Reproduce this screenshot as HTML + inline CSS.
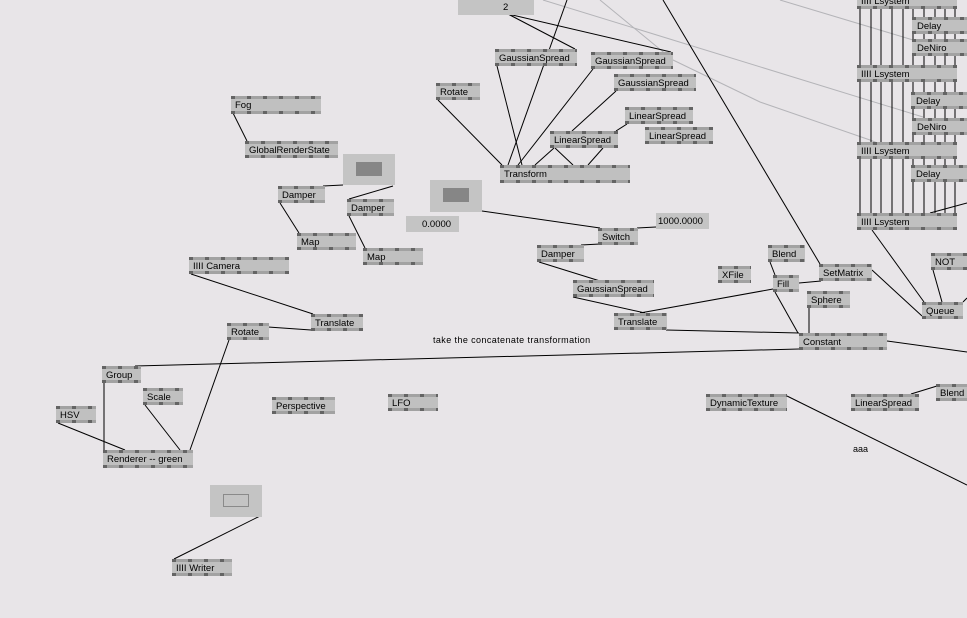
<!DOCTYPE html>
<html><head><meta charset="utf-8">
<style>
html,body{margin:0;padding:0;background:#e8e5e8;}
svg{display:block;}
text{font-family:"Liberation Sans",sans-serif;font-size:9.5px;fill:#000;}
</style></head><body>
<svg width="967" height="618" viewBox="0 0 967 618" xmlns="http://www.w3.org/2000/svg">
<defs>
<pattern id="pins" x="0" y="0" width="16" height="3" patternUnits="userSpaceOnUse">
<rect width="16" height="3" fill="#a2a2a2"/><rect width="4" height="3" fill="#646464"/>
</pattern>
</defs>
<rect width="967" height="618" fill="#e8e5e8"/>

<g stroke="#b4b4b8" stroke-width="1" fill="none">
<line x1="543" y1="0" x2="923" y2="117"/>
<line x1="600" y1="0" x2="673" y2="60"/>
<polyline points="673,60 760,102 870,140 915,158"/>
<line x1="780" y1="0" x2="913" y2="40"/>
</g>

<g stroke="#000" stroke-width="1" fill="none">
<line x1="508" y1="14" x2="575" y2="49"/>
<line x1="508" y1="14" x2="671" y2="52"/>
<line x1="567" y1="0" x2="508" y2="165"/>
<line x1="497" y1="66" x2="522" y2="165"/>
<line x1="593" y1="69" x2="518" y2="165"/>
<line x1="616" y1="91" x2="572" y2="131"/>
<line x1="627" y1="124" x2="616" y2="131"/>
<line x1="438" y1="100" x2="502" y2="165"/>
<line x1="554" y1="148" x2="535" y2="165"/>
<line x1="555" y1="148" x2="573" y2="165"/>
<line x1="603" y1="148" x2="588" y2="165"/>
<line x1="663" y1="0" x2="820" y2="264"/>
<line x1="482" y1="211" x2="600" y2="228"/>
<line x1="637" y1="228" x2="656" y2="227"/>
<line x1="581" y1="245" x2="600" y2="244"/>
<line x1="539" y1="262" x2="600" y2="281"/>
<line x1="573" y1="297" x2="645" y2="313"/>
<line x1="773" y1="289" x2="640" y2="313"/>
<line x1="666" y1="330" x2="799" y2="333"/>
<line x1="775" y1="292" x2="798" y2="333"/>
<line x1="770" y1="262" x2="775" y2="275"/>
<line x1="799" y1="283" x2="821" y2="281"/>
<line x1="809" y1="308" x2="809" y2="333"/>
<line x1="872" y1="270" x2="922" y2="316"/>
<line x1="872" y1="230" x2="924" y2="302"/>
<line x1="933" y1="270" x2="942" y2="302"/>
<line x1="963" y1="302" x2="967" y2="298"/>
<line x1="887" y1="341" x2="967" y2="352"/>
<line x1="787" y1="396" x2="967" y2="485"/>
<line x1="937" y1="386" x2="911" y2="394"/>
<line x1="930" y1="213" x2="967" y2="203"/>
<line x1="233" y1="113" x2="247" y2="141"/>
<line x1="323" y1="186" x2="343" y2="185"/>
<line x1="349" y1="199" x2="393" y2="186"/>
<line x1="280" y1="203" x2="299" y2="233"/>
<line x1="349" y1="216" x2="365" y2="248"/>
<line x1="191" y1="274" x2="313" y2="314"/>
<line x1="268" y1="327" x2="311" y2="330"/>
<line x1="229" y1="340" x2="190" y2="450"/>
<line x1="135" y1="366" x2="799" y2="349"/>
<line x1="58" y1="423" x2="125" y2="450"/>
<line x1="104" y1="383" x2="104" y2="450"/>
<line x1="145" y1="405" x2="180" y2="450"/>
<line x1="260" y1="516" x2="174" y2="559"/>
<path d="M860,8V65M871,8V65M881,8V65M892,8V65M903,8V65M913,8V65M924,8V65M935,8V65M945,8V65M955,8V65"/>
<path d="M860,82V142M871,82V142M881,82V142M892,82V142M903,82V142M913,82V142M924,82V142M935,82V142M945,82V142M955,82V142"/>
<path d="M860,159V213M871,159V213M881,159V213M892,159V213M903,159V213M913,159V213M924,159V213M935,159V213M945,159V213M955,159V213"/>
</g>

<rect x="458" y="0" width="76" height="15" fill="#c4c4c4"/><text x="503" y="10">2</text>
<rect x="343" y="154" width="52" height="31" fill="#c4c4c4"/><rect x="356" y="162" width="26" height="14" fill="#868686"/>
<rect x="430" y="180" width="52" height="32" fill="#c4c4c4"/><rect x="443" y="188" width="26" height="14" fill="#868686"/>
<rect x="406" y="216" width="53" height="16" fill="#c4c4c4"/><text x="422" y="227">0.0000</text>
<rect x="656" y="213" width="53" height="16" fill="#c4c4c4"/><text x="658" y="224">1000.0000</text>
<rect x="210" y="485" width="52" height="32" fill="#c4c4c4"/><rect x="223.5" y="494.5" width="25" height="12" fill="none" stroke="#8a8a8a"/>

<g>
<g transform="translate(857,-8)"><rect width="100" height="17" fill="#c0c0c0"/><rect width="100" height="3" fill="url(#pins)"/><rect y="14" width="100" height="3" fill="url(#pins)"/><text x="4" y="12">IIII  Lsystem</text></g>
<g transform="translate(912,17)"><rect width="55" height="17" fill="#c0c0c0"/><rect width="55" height="3" fill="url(#pins)"/><rect y="14" width="55" height="3" fill="url(#pins)"/><text x="5" y="12">Delay</text></g>
<g transform="translate(912,39)"><rect width="55" height="17" fill="#c0c0c0"/><rect width="55" height="3" fill="url(#pins)"/><rect y="14" width="55" height="3" fill="url(#pins)"/><text x="5" y="12">DeNiro</text></g>
<g transform="translate(857,65)"><rect width="100" height="17" fill="#c0c0c0"/><rect width="100" height="3" fill="url(#pins)"/><rect y="14" width="100" height="3" fill="url(#pins)"/><text x="4" y="12">IIII  Lsystem</text></g>
<g transform="translate(911,92)"><rect width="56" height="17" fill="#c0c0c0"/><rect width="56" height="3" fill="url(#pins)"/><rect y="14" width="56" height="3" fill="url(#pins)"/><text x="5" y="12">Delay</text></g>
<g transform="translate(912,118)"><rect width="55" height="17" fill="#c0c0c0"/><rect width="55" height="3" fill="url(#pins)"/><rect y="14" width="55" height="3" fill="url(#pins)"/><text x="5" y="12">DeNiro</text></g>
<g transform="translate(857,142)"><rect width="100" height="17" fill="#c0c0c0"/><rect width="100" height="3" fill="url(#pins)"/><rect y="14" width="100" height="3" fill="url(#pins)"/><text x="4" y="12">IIII  Lsystem</text></g>
<g transform="translate(911,165)"><rect width="56" height="17" fill="#c0c0c0"/><rect width="56" height="3" fill="url(#pins)"/><rect y="14" width="56" height="3" fill="url(#pins)"/><text x="5" y="12">Delay</text></g>
<g transform="translate(857,213)"><rect width="100" height="17" fill="#c0c0c0"/><rect width="100" height="3" fill="url(#pins)"/><rect y="14" width="100" height="3" fill="url(#pins)"/><text x="4" y="12">IIII  Lsystem</text></g>

<g transform="translate(495,49)"><rect width="82" height="17" fill="#c0c0c0"/><rect width="82" height="3" fill="url(#pins)"/><rect y="14" width="82" height="3" fill="url(#pins)"/><text x="4" y="12">GaussianSpread</text></g>
<g transform="translate(591,52)"><rect width="82" height="17" fill="#c0c0c0"/><rect width="82" height="3" fill="url(#pins)"/><rect y="14" width="82" height="3" fill="url(#pins)"/><text x="4" y="12">GaussianSpread</text></g>
<g transform="translate(614,74)"><rect width="82" height="17" fill="#c0c0c0"/><rect width="82" height="3" fill="url(#pins)"/><rect y="14" width="82" height="3" fill="url(#pins)"/><text x="4" y="12">GaussianSpread</text></g>
<g transform="translate(436,83)"><rect width="44" height="17" fill="#c0c0c0"/><rect width="44" height="3" fill="url(#pins)"/><rect y="14" width="44" height="3" fill="url(#pins)"/><text x="4" y="12">Rotate</text></g>
<g transform="translate(625,107)"><rect width="68" height="17" fill="#c0c0c0"/><rect width="68" height="3" fill="url(#pins)"/><rect y="14" width="68" height="3" fill="url(#pins)"/><text x="4" y="12">LinearSpread</text></g>
<g transform="translate(645,127)"><rect width="68" height="17" fill="#c0c0c0"/><rect width="68" height="3" fill="url(#pins)"/><rect y="14" width="68" height="3" fill="url(#pins)"/><text x="4" y="12">LinearSpread</text></g>
<g transform="translate(550,131)"><rect width="68" height="17" fill="#c0c0c0"/><rect width="68" height="3" fill="url(#pins)"/><rect y="14" width="68" height="3" fill="url(#pins)"/><text x="4" y="12">LinearSpread</text></g>
<g transform="translate(500,165)"><rect width="130" height="18" fill="#c0c0c0"/><rect width="130" height="3" fill="url(#pins)"/><rect y="15" width="130" height="3" fill="url(#pins)"/><text x="4" y="12">Transform</text></g>

<g transform="translate(231,96)"><rect width="90" height="18" fill="#c0c0c0"/><rect width="90" height="3" fill="url(#pins)"/><rect y="15" width="90" height="3" fill="url(#pins)"/><text x="4" y="12">Fog</text></g>
<g transform="translate(245,141)"><rect width="93" height="17" fill="#c0c0c0"/><rect width="93" height="3" fill="url(#pins)"/><rect y="14" width="93" height="3" fill="url(#pins)"/><text x="4" y="12">GlobalRenderState</text></g>
<g transform="translate(278,186)"><rect width="47" height="17" fill="#c0c0c0"/><rect width="47" height="3" fill="url(#pins)"/><rect y="14" width="47" height="3" fill="url(#pins)"/><text x="4" y="12">Damper</text></g>
<g transform="translate(347,199)"><rect width="47" height="17" fill="#c0c0c0"/><rect width="47" height="3" fill="url(#pins)"/><rect y="14" width="47" height="3" fill="url(#pins)"/><text x="4" y="12">Damper</text></g>
<g transform="translate(297,233)"><rect width="59" height="17" fill="#c0c0c0"/><rect width="59" height="3" fill="url(#pins)"/><rect y="14" width="59" height="3" fill="url(#pins)"/><text x="4" y="12">Map</text></g>
<g transform="translate(363,248)"><rect width="60" height="17" fill="#c0c0c0"/><rect width="60" height="3" fill="url(#pins)"/><rect y="14" width="60" height="3" fill="url(#pins)"/><text x="4" y="12">Map</text></g>
<g transform="translate(189,257)"><rect width="100" height="17" fill="#c0c0c0"/><rect width="100" height="3" fill="url(#pins)"/><rect y="14" width="100" height="3" fill="url(#pins)"/><text x="4" y="12">IIII  Camera</text></g>
<g transform="translate(311,314)"><rect width="52" height="17" fill="#c0c0c0"/><rect width="52" height="3" fill="url(#pins)"/><rect y="14" width="52" height="3" fill="url(#pins)"/><text x="4" y="12">Translate</text></g>
<g transform="translate(227,323)"><rect width="42" height="17" fill="#c0c0c0"/><rect width="42" height="3" fill="url(#pins)"/><rect y="14" width="42" height="3" fill="url(#pins)"/><text x="4" y="12">Rotate</text></g>

<g transform="translate(598,228)"><rect width="40" height="17" fill="#c0c0c0"/><rect width="40" height="3" fill="url(#pins)"/><rect y="14" width="40" height="3" fill="url(#pins)"/><text x="4" y="12">Switch</text></g>
<g transform="translate(537,245)"><rect width="47" height="17" fill="#c0c0c0"/><rect width="47" height="3" fill="url(#pins)"/><rect y="14" width="47" height="3" fill="url(#pins)"/><text x="4" y="12">Damper</text></g>
<g transform="translate(573,280)"><rect width="81" height="17" fill="#c0c0c0"/><rect width="81" height="3" fill="url(#pins)"/><rect y="14" width="81" height="3" fill="url(#pins)"/><text x="4" y="12">GaussianSpread</text></g>
<g transform="translate(614,313)"><rect width="53" height="17" fill="#c0c0c0"/><rect width="53" height="3" fill="url(#pins)"/><rect y="14" width="53" height="3" fill="url(#pins)"/><text x="4" y="12">Translate</text></g>
<g transform="translate(718,266)"><rect width="33" height="17" fill="#c0c0c0"/><rect width="33" height="3" fill="url(#pins)"/><rect y="14" width="33" height="3" fill="url(#pins)"/><text x="4" y="12">XFile</text></g>
<g transform="translate(768,245)"><rect width="37" height="17" fill="#c0c0c0"/><rect width="37" height="3" fill="url(#pins)"/><rect y="14" width="37" height="3" fill="url(#pins)"/><text x="4" y="12">Blend</text></g>
<g transform="translate(773,275)"><rect width="26" height="17" fill="#c0c0c0"/><rect width="26" height="3" fill="url(#pins)"/><rect y="14" width="26" height="3" fill="url(#pins)"/><text x="4" y="12">Fill</text></g>
<g transform="translate(819,264)"><rect width="53" height="17" fill="#c0c0c0"/><rect width="53" height="3" fill="url(#pins)"/><rect y="14" width="53" height="3" fill="url(#pins)"/><text x="4" y="12">SetMatrix</text></g>
<g transform="translate(807,291)"><rect width="43" height="17" fill="#c0c0c0"/><rect width="43" height="3" fill="url(#pins)"/><rect y="14" width="43" height="3" fill="url(#pins)"/><text x="4" y="12">Sphere</text></g>
<g transform="translate(931,253)"><rect width="36" height="17" fill="#c0c0c0"/><rect width="36" height="3" fill="url(#pins)"/><rect y="14" width="36" height="3" fill="url(#pins)"/><text x="4" y="12">NOT</text></g>
<g transform="translate(922,302)"><rect width="41" height="17" fill="#c0c0c0"/><rect width="41" height="3" fill="url(#pins)"/><rect y="14" width="41" height="3" fill="url(#pins)"/><text x="4" y="12">Queue</text></g>
<g transform="translate(799,333)"><rect width="88" height="17" fill="#c0c0c0"/><rect width="88" height="3" fill="url(#pins)"/><rect y="14" width="88" height="3" fill="url(#pins)"/><text x="4" y="12">Constant</text></g>

<g transform="translate(102,366)"><rect width="39" height="17" fill="#c0c0c0"/><rect width="39" height="3" fill="url(#pins)"/><rect y="14" width="39" height="3" fill="url(#pins)"/><text x="4" y="12">Group</text></g>
<g transform="translate(143,388)"><rect width="40" height="17" fill="#c0c0c0"/><rect width="40" height="3" fill="url(#pins)"/><rect y="14" width="40" height="3" fill="url(#pins)"/><text x="4" y="12">Scale</text></g>
<g transform="translate(56,406)"><rect width="40" height="17" fill="#c0c0c0"/><rect width="40" height="3" fill="url(#pins)"/><rect y="14" width="40" height="3" fill="url(#pins)"/><text x="4" y="12">HSV</text></g>
<g transform="translate(103,450)"><rect width="90" height="18" fill="#c0c0c0"/><rect width="90" height="3" fill="url(#pins)"/><rect y="15" width="90" height="3" fill="url(#pins)"/><text x="4" y="12">Renderer -- green</text></g>
<g transform="translate(272,397)"><rect width="63" height="17" fill="#c0c0c0"/><rect width="63" height="3" fill="url(#pins)"/><rect y="14" width="63" height="3" fill="url(#pins)"/><text x="4" y="12">Perspective</text></g>
<g transform="translate(388,394)"><rect width="50" height="17" fill="#c0c0c0"/><rect width="50" height="3" fill="url(#pins)"/><rect y="14" width="50" height="3" fill="url(#pins)"/><text x="4" y="12">LFO</text></g>
<g transform="translate(706,394)"><rect width="81" height="17" fill="#c0c0c0"/><rect width="81" height="3" fill="url(#pins)"/><rect y="14" width="81" height="3" fill="url(#pins)"/><text x="4" y="12">DynamicTexture</text></g>
<g transform="translate(851,394)"><rect width="68" height="17" fill="#c0c0c0"/><rect width="68" height="3" fill="url(#pins)"/><rect y="14" width="68" height="3" fill="url(#pins)"/><text x="4" y="12">LinearSpread</text></g>
<g transform="translate(936,384)"><rect width="31" height="17" fill="#c0c0c0"/><rect width="31" height="3" fill="url(#pins)"/><rect y="14" width="31" height="3" fill="url(#pins)"/><text x="4" y="12">Blend</text></g>
<g transform="translate(172,559)"><rect width="60" height="17" fill="#c0c0c0"/><rect width="60" height="3" fill="url(#pins)"/><rect y="14" width="60" height="3" fill="url(#pins)"/><text x="4" y="12">IIII  Writer</text></g>
</g>

<text x="433" y="343" style="font-size:9px;letter-spacing:0.4px">take the concatenate transformation</text>
<text x="853" y="452" style="font-size:9px">aaa</text>
</svg>
</body></html>
